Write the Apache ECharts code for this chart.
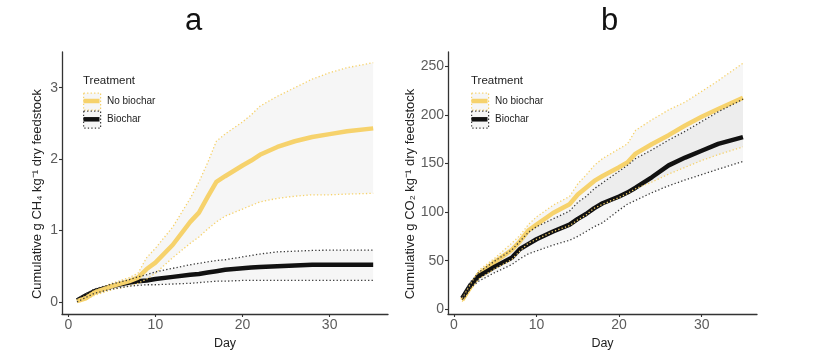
<!DOCTYPE html>
<html>
<head>
<meta charset="utf-8">
<script src="https://cdn.jsdelivr.net/npm/echarts@6/dist/echarts.min.js"></script>
<style>
html,body{margin:0;padding:0;background:#fff;}
#chart{width:831px;height:355px;}
</style>
</head>
<body>
<div id="chart"></div>
<script>
// ---- data ----
const days = [1,2,3,5,7,8,9,10,12,14,15,16,17,18,20,21,22,24,26,28,30,32,35];

// Panel a: cumulative CH4
const ch4NoMean  = [0.01,0.05,0.13,0.22,0.29,0.34,0.46,0.55,0.80,1.12,1.25,1.47,1.68,1.76,1.91,1.98,2.06,2.17,2.25,2.31,2.35,2.39,2.43];
const ch4NoUpper = [0.03,0.08,0.16,0.26,0.34,0.40,0.62,0.75,1.05,1.45,1.68,1.95,2.25,2.35,2.52,2.62,2.74,2.88,3.00,3.12,3.21,3.28,3.35];
const ch4NoLower = [0.00,0.03,0.09,0.17,0.22,0.26,0.32,0.40,0.62,0.82,0.91,1.02,1.12,1.20,1.30,1.35,1.40,1.45,1.48,1.50,1.50,1.51,1.52];
const ch4BcMean  = [0.02,0.09,0.15,0.22,0.27,0.29,0.30,0.32,0.35,0.38,0.39,0.41,0.43,0.45,0.47,0.48,0.49,0.50,0.51,0.52,0.52,0.52,0.52];
const ch4BcUpper = [0.04,0.11,0.18,0.25,0.31,0.35,0.38,0.42,0.47,0.52,0.54,0.56,0.58,0.59,0.63,0.65,0.67,0.70,0.71,0.72,0.725,0.725,0.725];
const ch4BcLower = [0.00,0.06,0.12,0.18,0.22,0.23,0.24,0.24,0.25,0.26,0.27,0.28,0.29,0.29,0.30,0.30,0.30,0.30,0.30,0.30,0.30,0.30,0.30];

// Panel b: cumulative CO2
const co2NoMean  = [9.5,23,36,49,61,70,81,87,99,108,118,125,132,137,146,151,160,170,179,189,198,206,217.5];
const co2NoUpper = [11,26,40,53,68,76,87,95,107,116,129,138,148,155,165,170,184,195,205,213,224,235,253];
const co2NoLower = [8,20,31,42,51,60,68,72,80,86,92,97,104,108,115,119,124,131,139,146,153,159,167];
const co2BcMean  = [11.5,25,34,44,53,62,67,72,80,87,93,98,104,109,116,120,125,136,148,156,163,170,177];
const co2BcUpper = [13,28,38,50,61,70,79,85,93,101,110,116,124,130,142,148,155,164,174,183,193,203,216];
const co2BcLower = [10,22,29,38,46,52,57,60,66,71,75,80,85,89,102,108,112,120,127,133,138.5,144,152];

// tick labels
const dayTicks = [0,10,20,30];
const ch4Ticks = [0,1,2,3];
const co2Ticks = [0,50,100,150,200,250];

const treatments = ['No biochar','Biochar'];
const panelTitles = ['a','b'];

// ---- styling ----
const YEL = '#F6D26C';
const BLK = '#111111';
const DOTBLK = '#3a3a3a';
const RIB = 'rgba(110,110,110,0.06)';
const FONT = '"Liberation Sans", Arial, Helvetica, sans-serif';

function pairs(xs, ys){ return xs.map((x,i)=>[x, ys[i]]); }

function ribbon(gi, lower, upper){
  return {
    type:'custom', xAxisIndex:gi, yAxisIndex:gi, z:1, silent:true,
    data: days.map((d,i)=>[d, lower[i], upper[i]]),
    encode:{x:0, y:[1,2]},
    renderItem:function(params, api){
      if (params.dataIndex !== 0) return null;
      const pts = [];
      for (let i=0;i<days.length;i++) pts.push(api.coord([days[i], upper[i]]));
      for (let i=days.length-1;i>=0;i--) pts.push(api.coord([days[i], lower[i]]));
      return {type:'polygon', shape:{points:pts}, style:{fill:RIB}};
    }
  };
}
function meanLine(gi, ys, color, name){
  return {type:'line', name:name, xAxisIndex:gi, yAxisIndex:gi, z:3, data:pairs(days, ys),
    showSymbol:false, symbol:'none', silent:true,
    lineStyle:{color:color, width:4.5, join:'round'}};
}
function dotLine(gi, ys, color){
  return {type:'line', xAxisIndex:gi, yAxisIndex:gi, z:4, data:pairs(days, ys),
    showSymbol:false, symbol:'none', silent:true,
    lineStyle:{color:color, width:1.3, type:[1.3,2.2]}};
}

function xAxisDef(gi){
  return {type:'value', gridIndex:gi, min:-0.72, max:36.7,
    splitLine:{show:false},
    axisLine:{show:true, onZero:false, lineStyle:{color:'#333', width:1.3}},
    axisTick:{show:true, customValues:dayTicks, length:3, lineStyle:{color:'#333', width:1.1}},
    axisLabel:{customValues:dayTicks, color:'#5c5c5c', fontSize:14, margin:4, fontFamily:FONT},
    name:'Day', nameLocation:'middle', nameGap:22,
    nameTextStyle:{color:'#222', fontSize:12.5, fontFamily:FONT}};
}
function yAxisDef(gi, min, max, ticks, name){
  return {type:'value', gridIndex:gi, min:min, max:max,
    splitLine:{show:false},
    axisLine:{show:true, onZero:false, lineStyle:{color:'#333', width:1.3}},
    axisTick:{show:true, customValues:ticks, length:3, lineStyle:{color:'#333', width:1.1}},
    axisLabel:{customValues:ticks, color:'#5c5c5c', fontSize:14, margin:4, fontFamily:FONT},
    name:name, nameLocation:'middle', nameGap:gi===0?18:29,
    nameTextStyle:{color:'#222', fontSize:13, fontFamily:FONT, padding:[0,22,0,0]}};
}

function legendGraphics(x0){
  const g = [];
  g.push({type:'text', left:x0, top:75, style:{text:'Treatment', fill:'#222', font:'11.5px '+FONT}});
  // key 1: No biochar
  g.push({type:'rect', left:x0, top:92.5, shape:{x:0,y:0,width:17,height:17}, style:{fill:RIB, stroke:YEL, lineWidth:1.2, lineDash:[1.3,2.2]}});
  g.push({type:'line', shape:{x1:x0+0.5,y1:101,x2:x0+16.5,y2:101}, style:{stroke:YEL, lineWidth:4.5}});
  g.push({type:'text', left:x0+24, top:96, style:{text:treatments[0], fill:'#222', font:'10px '+FONT}});
  // key 2: Biochar
  g.push({type:'rect', left:x0, top:110.5, shape:{x:0,y:0,width:17,height:17}, style:{fill:RIB, stroke:DOTBLK, lineWidth:1.2, lineDash:[1.3,2.2]}});
  g.push({type:'line', shape:{x1:x0+0.5,y1:119.3,x2:x0+16.5,y2:119.3}, style:{stroke:BLK, lineWidth:4.5}});
  g.push({type:'text', left:x0+24, top:114.5, style:{text:treatments[1], fill:'#222', font:'10px '+FONT}});
  return g;
}

const chart = echarts.init(document.getElementById('chart'), null, {renderer:'canvas'});
const option = {
  animation:false,
  backgroundColor:'#fff',
  textStyle:{fontFamily:FONT},
  grid:[
    {left:62, top:52, width:326, height:262, containLabel:false},
    {left:448, top:52, width:309, height:262, containLabel:false}
  ],
  xAxis:[xAxisDef(0), xAxisDef(1)],
  yAxis:[
    yAxisDef(0, -0.17, 3.5, ch4Ticks, 'Cumulative g CH\u2084 kg\u207B\u00B9 dry feedstock'),
    yAxisDef(1, -4.8, 264.5, co2Ticks, 'Cumulative g CO\u2082 kg\u207B\u00B9 dry feedstock')
  ],
  graphic:[
    {type:'text', left:185, top:6, style:{text:panelTitles[0], fill:'#111', font:'31px '+FONT}},
    {type:'text', left:601, top:6, style:{text:panelTitles[1], fill:'#111', font:'31px '+FONT}}
  ].concat(legendGraphics(83)).concat(legendGraphics(471)),
  series:[
    ribbon(0, ch4NoLower, ch4NoUpper),
    ribbon(0, ch4BcLower, ch4BcUpper),
    meanLine(0, ch4BcMean, BLK, treatments[1]),
    meanLine(0, ch4NoMean, YEL, treatments[0]),
    dotLine(0, ch4NoUpper, YEL),
    dotLine(0, ch4NoLower, YEL),
    dotLine(0, ch4BcUpper, DOTBLK),
    dotLine(0, ch4BcLower, DOTBLK),

    ribbon(1, co2NoLower, co2NoUpper),
    ribbon(1, co2BcLower, co2BcUpper),
    meanLine(1, co2NoMean, YEL, treatments[0]),
    meanLine(1, co2BcMean, BLK, treatments[1]),
    dotLine(1, co2NoUpper, YEL),
    dotLine(1, co2NoLower, YEL),
    dotLine(1, co2BcUpper, DOTBLK),
    dotLine(1, co2BcLower, DOTBLK)
  ]
};
chart.setOption(option);
</script>
</body>
</html>
